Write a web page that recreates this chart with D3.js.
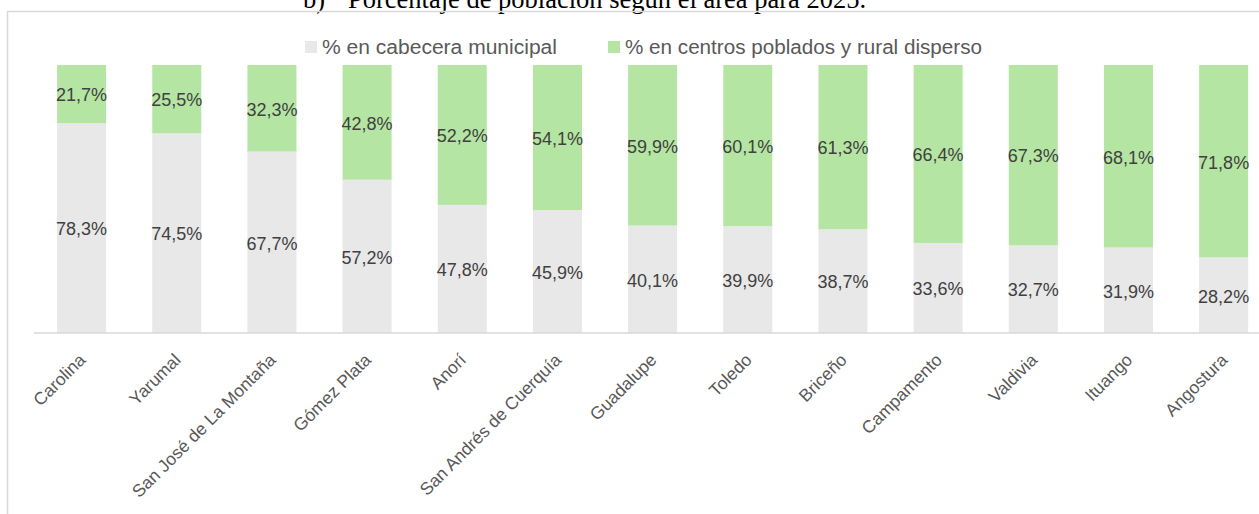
<!DOCTYPE html>
<html>
<head>
<meta charset="utf-8">
<title>Porcentaje de población según el área para 2025</title>
<script src="https://cdn.jsdelivr.net/npm/d3@7"></script>
<style>
  body { margin: 0; background: #fff; }
  svg { display: block; }
</style>
</head>
<body>
<svg width="1259" height="514"></svg>
<script>
// municipios, ordenados como en la hoja
var municipios = ["Carolina", "Yarumal", "San José de La Montaña", "Gómez Plata", "Anorí",
  "San Andrés de Cuerquía", "Guadalupe", "Toledo", "Briceño", "Campamento",
  "Valdivia", "Ituango", "Angostura"];
var cabecera = [78.3, 74.5, 67.7, 57.2, 47.8, 45.9, 40.1, 39.9, 38.7, 33.6, 32.7, 31.9, 28.2];
var rural = [21.7, 25.5, 32.3, 42.8, 52.2, 54.1, 59.9, 60.1, 61.3, 66.4, 67.3, 68.1, 71.8];
var series = ["% en cabecera municipal", "% en centros poblados y rural disperso"];
var colores = ["#e8e8e8", "#b5e5a3"];

var svg = d3.select("svg"),
    width = +svg.attr("width"),
    height = +svg.attr("height");

// titulo del documento, cortado arriba
svg.append("text")
    .attr("x", 303).attr("y", 8)
    .attr("font-family", "'Liberation Serif', 'Times New Roman', serif")
    .attr("font-size", 26.5)
    .attr("fill", "#000")
    .text("b)");
svg.append("text")
    .attr("x", 348).attr("y", 8)
    .attr("font-family", "'Liberation Serif', 'Times New Roman', serif")
    .attr("font-size", 26.5)
    .attr("fill", "#000")
    .text("Porcentaje de población según el área para 2025.");

// marco del grafico
svg.append("rect")
    .attr("x", 7.5).attr("y", 11.5)
    .attr("width", 1300).attr("height", 600)
    .attr("fill", "none")
    .attr("stroke", "#d9d9d9")
    .attr("stroke-width", 1.5);

var x = d3.scaleBand()
    .domain(municipios)
    .range([34, 34 + 13 * 95.17])
    .paddingInner(0.485)
    .paddingOuter(0.2425);

var y = d3.scaleLinear()
    .domain([0, 100])
    .range([333, 65]);

var data = municipios.map(function(m, i) {
  return { municipio: m, cabecera: cabecera[i], rural: rural[i] };
});

var stack = d3.stack().keys(["cabecera", "rural"]);
var capas = stack(data);

var g = svg.append("g");

capas.forEach(function(capa, k) {
  g.selectAll(".bar" + k)
    .data(capa)
    .enter().append("rect")
      .attr("x", function(d) { return x(d.data.municipio); })
      .attr("y", function(d) { return y(d[1]); })
      .attr("width", x.bandwidth())
      .attr("height", function(d) { return y(d[0]) - y(d[1]); })
      .attr("fill", colores[k]);

  g.selectAll(".lab" + k)
    .data(capa)
    .enter().append("text")
      .attr("x", function(d) { return x(d.data.municipio) + x.bandwidth() / 2; })
      .attr("y", function(d) { return (y(d[0]) + y(d[1])) / 2 + 1; })
      .attr("dy", "0.35em")
      .attr("text-anchor", "middle")
      .attr("font-family", "'Liberation Sans', Arial, sans-serif")
      .attr("font-size", 18)
      .attr("fill", "#404040")
      .text(function(d) { return (d[1] - d[0]).toFixed(1).replace(".", ",") + "%"; });
});

// eje x
var xAxis = svg.append("g")
    .attr("transform", "translate(0,333)")
    .call(d3.axisBottom(x).tickSize(0).tickPadding(0));
xAxis.select(".domain").attr("stroke", "#d9d9d9").attr("stroke-width", 1.5)
    .attr("d", "M34,0H1259");
xAxis.selectAll("text")
    .attr("font-family", "'Liberation Sans', Arial, sans-serif")
    .attr("font-size", 17.5)
    .attr("fill", "#595959")
    .attr("text-anchor", "end")
    .attr("dy", null)
    .attr("transform", "translate(5,28) rotate(-45)");

// leyenda
var leyX = [305, 608];
var leyLen = [235, 357];
series.forEach(function(s, i) {
  svg.append("rect")
      .attr("x", leyX[i]).attr("y", 41)
      .attr("width", 12).attr("height", 12)
      .attr("fill", colores[i]);
  svg.append("text")
      .attr("x", leyX[i] + 17).attr("y", 54)
      .attr("font-family", "'Liberation Sans', Arial, sans-serif")
      .attr("font-size", 20)
      .attr("fill", "#595959")
      .attr("textLength", leyLen[i])
      .attr("lengthAdjust", "spacingAndGlyphs")
      .text(s);
});
</script>
</body>
</html>
